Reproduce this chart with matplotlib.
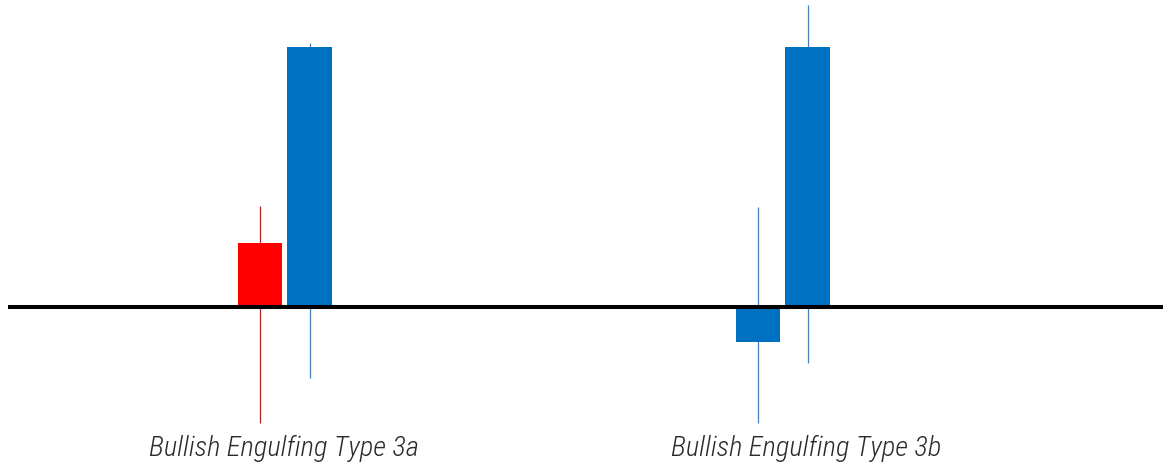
# -----------------------------
#   IMPORTS
# -----------------------------
import matplotlib
matplotlib.use("Agg")
import matplotlib.pyplot as plt
from matplotlib import font_manager
from matplotlib.patches import Rectangle


# -----------------------------
#   DATA
# -----------------------------
# Candle positions (bar index) and OHLC values, big candle body = 100
positions = [0, 1, 10, 11]
opens = [24.5, 0, -13.5, 0]
highs = [39, 101.5, 38.5, 116]
lows = [-44.5, -27.5, -44.5, -21.5]
closes = [0, 100, -0.5, 100]
group_labels = ["Bullish Engulfing Type 3a", "Bullish Engulfing Type 3b"]
label_x = [0.48, 10.96]


# -----------------------------
#   STYLE
# -----------------------------
names = {f.name for f in font_manager.fontManager.ttflist}
if "Roboto Condensed" in names:
    label_font, label_size = "Roboto Condensed", 20.5
else:
    label_font, label_size = "Roboto", 17

UP_BODY, UP_WICK = "#0070C0", "#4A7EBB"
DOWN_BODY, DOWN_WICK = "#FF0000", "#B22222"
BODY_W = 0.9


# -----------------------------
#   PLOT
# -----------------------------
fig = plt.figure(figsize=(11.63, 4.66), dpi=100)
ax = fig.add_axes([0, 0, 1, 1])

for x, o, h, l, c in zip(positions, opens, highs, lows, closes):
    up = c >= o
    body_c = UP_BODY if up else DOWN_BODY
    wick_c = UP_WICK if up else DOWN_WICK
    ax.vlines(x, l, h, color=wick_c, linewidth=0.9, zorder=1)
    ax.add_patch(Rectangle((x - BODY_W / 2, min(o, c)), BODY_W, abs(c - o),
                           facecolor=body_c, edgecolor="none", zorder=2))

# Zero line across the chart
ax.axhline(0, xmin=0.009, xmax=1, color="black", linewidth=2.9, zorder=3)

for gx, text in zip(label_x, group_labels):
    ax.text(gx, -57.5, text, ha="center", va="baseline", fontsize=label_size,
            family=label_font, style="italic", weight="light", color="#2a2a2a")

ax.set_xlim(-5.22, 18.13)
ax.set_ylim(-61.2, 118.1)
ax.axis("off")

fig.savefig("out.png", dpi=100, facecolor="white")
